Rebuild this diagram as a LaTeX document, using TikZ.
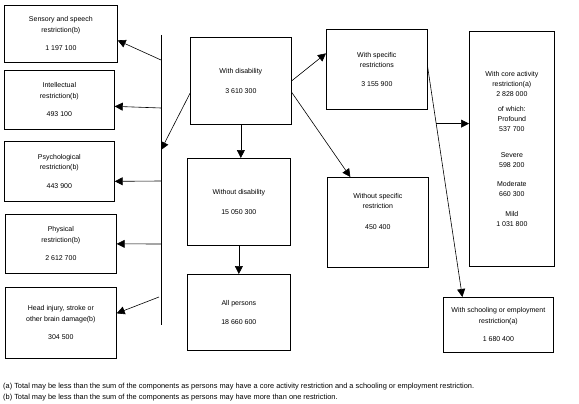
\documentclass[tikz,border=0pt]{standalone}
\usepackage{fontspec}
\setmainfont{Liberation Sans}
\usepackage{tikz}
\usetikzlibrary{arrows.meta,calc,positioning}
\tikzset{arr/.style={-{Triangle[length=8pt,width=8pt]},line width=0.6pt},
         box/.style={draw,line width=0.7pt,anchor=north west,inner sep=0pt,
                     align=center,font=\fontsize{7}{10.5}\selectfont},
         note/.style={anchor=west,inner sep=0pt,font=\fontsize{7.4}{8}\selectfont}}

\begin{document}
\begin{tikzpicture}[x=1pt,y=-1pt]
\useasboundingbox (0,0) rectangle (579,404);
% restriction boxes on the left
\node[box,minimum width=113,minimum height=57] (sensory) at (4,5)
   {Sensory and speech\\restriction(b)\\[8pt]1 197 100};
\node[box,minimum width=110,minimum height=59] (intellect) at (4,70)
   {Intellectual\\restriction(b)\\[8pt]493 100};
\node[box,minimum width=110,minimum height=60] (psych) at (4,141)
   {Psychological\\restriction(b)\\[8pt]443 900};
\node[box,minimum width=111,minimum height=59] (physical) at (5,214)
   {Physical\\restriction(b)\\[8pt]2 612 700};
\node[box,minimum width=111,minimum height=71] (head) at (5,287)
   {Head injury, stroke or\\other brain damage(b)\\[8pt]304 500};
% middle column
\node[box,minimum width=101,minimum height=87] (withdis) at (190,37)
   {With disability\\[9pt]3 610 300};
\node[box,minimum width=103,minimum height=87] (withoutdis) at (187,158)
   {Without disability\\[9pt]15 050 300};
\node[box,minimum width=103,minimum height=76] (allpers) at (187,274)
   {All persons\\[9pt]18 660 600};
% specific restrictions
\node[box,minimum width=101,minimum height=80] (withspec) at (326,29)
   {With specific\\restrictions\\[8pt]3 155 900};
\node[box,minimum width=101,minimum height=90] (withoutspec) at (327,177)
   {Without specific\\restriction\\[10pt]450 400\\[12pt]};
\node[box,minimum width=85,minimum height=235,font=\fontsize{7}{9.8}\selectfont] (core) at (469,31)
   {With core activity\\restriction(a)\\2 828 000\\[6pt]of which:\\Profound\\537 700\\[16pt]Severe\\598 200\\[10pt]Moderate\\660 300\\[10pt]Mild\\1 031 800};
\node[box,minimum width=110,minimum height=55] (school) at (443,297)
   {With schooling or employment\\restriction(a)\\[8pt]1 680 400};
% bar
\coordinate (bartop) at (161,35);
\coordinate (barbot) at (161,325);
\coordinate (barin) at (161,150);
\coordinate (b1) at (161,60);
\coordinate (b2) at (161,108);
\coordinate (b3) at (161,181);
\coordinate (b4) at (161,244);
\coordinate (b5) at (159,297);
\draw[line width=0.7pt] (bartop) -- (barbot);
\draw[arr] ([yshift=-12.5pt]withdis.west) -- (barin);
\draw[arr] (b1) -- ([yshift=-6.5pt]sensory.east);
\draw[arr] (b2) -- ([yshift=-6.5pt]intellect.east);
\draw[arr] (b3) -- ([yshift=-10pt]psych.east);
\draw[arr] (b4) -- (physical.east);
\draw[arr] (b5) -- ([yshift=9.5pt]head.east);
% down the middle
\draw[arr] (withdis.south) -- (withdis.south |- withoutdis.north);
\draw[arr] (withoutdis.south) -- (allpers.north);
% right side
\draw[arr] (withdis.east) -- ([yshift=16pt]withspec.west);
\draw[arr] ([yshift=-11.5pt]withdis.east) -- ([xshift=-27.5pt]withoutspec.north);
\draw[arr] ([yshift=2pt]withspec.east) -- ([xshift=-36pt]school.north);
\coordinate (branch) at ($([yshift=2pt]withspec.east)!0.245!([xshift=-36pt]school.north)$);
\draw[arr] (branch) -- (branch -| core.west);
% notes
\node[note] (nota) at (3,387) {(a) Total may be less than the sum of the components as persons may have a core activity restriction and a schooling or employment restriction.};
\node[note] (notb) at (3,398) {(b) Total may be less than the sum of the components as persons may have more than one restriction.};
\end{tikzpicture}
\end{document}
